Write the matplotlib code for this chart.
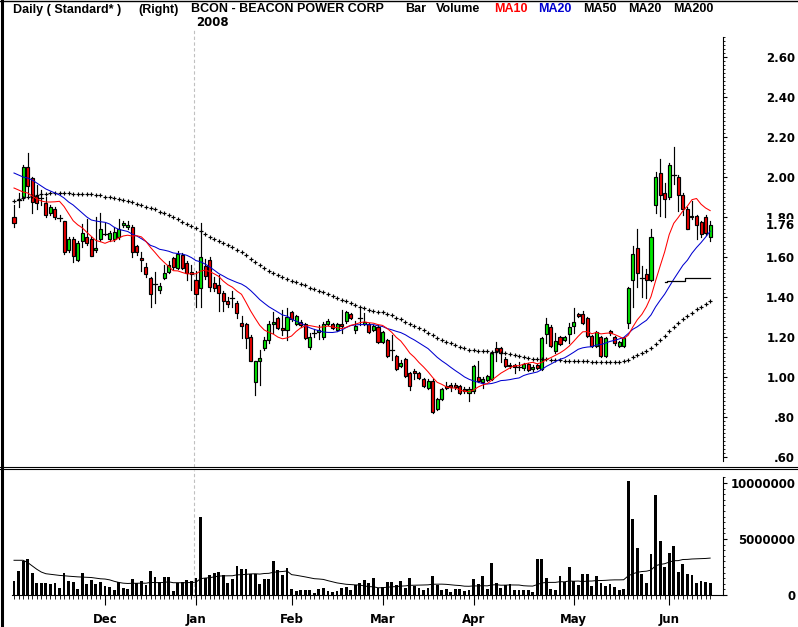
import numpy as np
import pandas as pd
import matplotlib
matplotlib.use("Agg")
import matplotlib.pyplot as plt
from matplotlib.patches import Rectangle
from matplotlib.lines import Line2D
from matplotlib.ticker import FixedLocator, FuncFormatter

# ---------------- data ----------------
holidays = ["2007-11-22", "2007-12-25", "2008-01-01", "2008-01-21",
            "2008-02-18", "2008-03-21", "2008-05-26"]
dates = pd.bdate_range("2007-11-02", "2008-06-13")
dates = dates[~dates.isin(pd.to_datetime(holidays))]

opens = [1.80, 1.885, 1.90, 2.05, 1.995, 1.905, 1.895, 1.87, 1.82, 1.84,
         1.795, 1.78, 1.635, 1.69, 1.585, 1.68, 1.70, 1.69, 1.635, 1.69,
         1.715, 1.69, 1.69, 1.70, 1.76, 1.75, 1.75, 1.655, 1.595, 1.55,
         1.495, 1.465, 1.435, 1.495, 1.525, 1.595, 1.545, 1.61, 1.57, 1.525,
         1.485, 1.445, 1.555, 1.585, 1.47, 1.46, 1.42, 1.38, 1.395, 1.37,
         1.27, 1.265, 1.20, 0.975, 1.08, 1.145, 1.185, 1.265, 1.295, 1.245,
         1.235, 1.325, 1.265, 1.275, 1.265, 1.15, 1.22, 1.225, 1.20, 1.265,
         1.265, 1.235, 1.265, 1.28, 1.315, 1.235, 1.295, 1.265, 1.265, 1.235,
         1.25, 1.175, 1.185, 1.135, 1.105, 1.055, 1.09, 1.02, 1.03, 1.02,
         0.99, 0.945, 0.98, 0.84, 0.89, 0.955, 0.96, 0.96, 0.955, 0.94,
         0.92, 0.93, 1.00, 0.975, 0.985, 0.99, 1.145, 1.145, 1.09, 1.055,
         1.06, 1.05, 1.045, 1.065, 1.04, 1.06, 1.04, 1.215, 1.25, 1.13,
         1.20, 1.185, 1.215, 1.255, 1.315, 1.315, 1.295, 1.205, 1.155, 1.20,
         1.105, 1.23, 1.20, 1.155, 1.155, 1.27, 1.485, 1.645, 1.495, 1.515,
         1.485, 1.86, 2.02, 1.92, 1.90, 2.01, 2.00, 1.91, 1.84, 1.80,
         1.805, 1.775, 1.80, 1.70]
highs = [1.86, 1.92, 2.06, 2.12, 2.00, 1.96, 1.935, 1.90, 1.86, 1.85,
         1.81, 1.78, 1.70, 1.70, 1.68, 1.765, 1.79, 1.70, 1.80, 1.82,
         1.77, 1.73, 1.75, 1.79, 1.78, 1.78, 1.76, 1.66, 1.625, 1.57,
         1.50, 1.525, 1.47, 1.56, 1.58, 1.60, 1.63, 1.62, 1.58, 1.56,
         1.53, 1.77, 1.59, 1.60, 1.50, 1.51, 1.43, 1.40, 1.43, 1.38,
         1.305, 1.27, 1.21, 1.08, 1.135, 1.20, 1.28, 1.325, 1.30, 1.335,
         1.345, 1.33, 1.31, 1.285, 1.27, 1.22, 1.24, 1.26, 1.275, 1.29,
         1.27, 1.27, 1.335, 1.33, 1.32, 1.28, 1.34, 1.32, 1.27, 1.26,
         1.26, 1.23, 1.19, 1.21, 1.11, 1.085, 1.095, 1.025, 1.04, 1.025,
         0.995, 0.99, 0.99, 0.895, 0.945, 0.975, 0.97, 0.97, 0.96, 0.95,
         0.95, 1.06, 1.08, 1.00, 1.01, 1.125, 1.175, 1.15, 1.10, 1.07,
         1.065, 1.075, 1.07, 1.07, 1.06, 1.065, 1.20, 1.295, 1.26, 1.22,
         1.205, 1.205, 1.27, 1.345, 1.32, 1.33, 1.30, 1.21, 1.23, 1.205,
         1.20, 1.235, 1.205, 1.18, 1.20, 1.45, 1.655, 1.74, 1.555, 1.54,
         1.74, 2.025, 2.09, 1.97, 2.07, 2.15, 2.01, 1.92, 1.85, 1.88,
         1.81, 1.78, 1.81, 1.78]
lows = [1.75, 1.85, 1.885, 1.90, 1.82, 1.84, 1.86, 1.80, 1.81, 1.79,
        1.78, 1.615, 1.625, 1.575, 1.58, 1.65, 1.66, 1.605, 1.625, 1.68,
        1.71, 1.68, 1.68, 1.69, 1.75, 1.74, 1.60, 1.61, 1.53, 1.50,
        1.35, 1.37, 1.42, 1.49, 1.52, 1.54, 1.54, 1.54, 1.485, 1.435,
        1.35, 1.35, 1.49, 1.43, 1.43, 1.33, 1.33, 1.35, 1.35, 1.295,
        1.195, 1.145, 1.08, 0.91, 0.96, 1.135, 1.17, 1.22, 1.24, 1.21,
        1.185, 1.28, 1.26, 1.25, 1.19, 1.14, 1.20, 1.19, 1.19, 1.26,
        1.24, 1.23, 1.22, 1.27, 1.29, 1.22, 1.26, 1.26, 1.22, 1.23,
        1.17, 1.17, 1.10, 1.085, 1.035, 1.05, 1.00, 0.935, 0.99, 0.99,
        0.95, 0.94, 0.82, 0.835, 0.885, 0.94, 0.93, 0.94, 0.915, 0.92,
        0.88, 0.92, 0.975, 0.945, 0.98, 0.985, 1.08, 1.075, 1.05, 1.045,
        1.02, 1.035, 1.035, 1.03, 1.03, 1.04, 1.035, 1.17, 1.15, 1.12,
        1.16, 1.18, 1.17, 1.22, 1.30, 1.265, 1.20, 1.15, 1.15, 1.10,
        1.10, 1.21, 1.16, 1.15, 1.15, 1.245, 1.35, 1.45, 1.40, 1.395,
        1.48, 1.82, 1.805, 1.80, 1.89, 1.965, 1.83, 1.81, 1.74, 1.79,
        1.69, 1.70, 1.71, 1.68]
closes = [1.77, 1.885, 2.05, 1.955, 1.875, 1.87, 1.895, 1.81, 1.85, 1.80,
          1.795, 1.625, 1.69, 1.605, 1.67, 1.72, 1.67, 1.605, 1.645, 1.74,
          1.715, 1.72, 1.725, 1.74, 1.77, 1.76, 1.625, 1.625, 1.585, 1.515,
          1.415, 1.465, 1.455, 1.52, 1.56, 1.55, 1.615, 1.545, 1.52, 1.515,
          1.415, 1.60, 1.505, 1.45, 1.445, 1.42, 1.38, 1.365, 1.395, 1.32,
          1.255, 1.195, 1.08, 1.08, 1.095, 1.185, 1.265, 1.275, 1.245, 1.235,
          1.30, 1.29, 1.305, 1.26, 1.195, 1.20, 1.22, 1.235, 1.265, 1.28,
          1.245, 1.265, 1.255, 1.325, 1.295, 1.255, 1.295, 1.275, 1.225, 1.255,
          1.175, 1.225, 1.105, 1.135, 1.04, 1.07, 1.005, 0.955, 1.02, 0.995,
          0.955, 0.98, 0.825, 0.89, 0.94, 0.945, 0.95, 0.95, 0.92, 0.93,
          0.94, 1.055, 0.98, 0.99, 1.005, 1.12, 1.13, 1.12, 1.055, 1.06,
          1.05, 1.05, 1.065, 1.035, 1.05, 1.045, 1.195, 1.265, 1.155, 1.18,
          1.165, 1.20, 1.25, 1.275, 1.305, 1.27, 1.205, 1.155, 1.225, 1.105,
          1.195, 1.22, 1.17, 1.175, 1.195, 1.445, 1.615, 1.52, 1.495, 1.485,
          1.70, 2.00, 1.91, 1.89, 2.06, 2.01, 1.91, 1.84, 1.74, 1.805,
          1.76, 1.715, 1.72, 1.76]
# volume in millions of shares
volume_m = [1.25, 2.15, 3.0, 3.2, 2.0, 1.07, 1.07, 1.07, 1.0, 1.07,
            0.63, 2.0, 1.25, 1.16, 0.54, 2.0, 1.0, 1.34, 1.0, 1.16,
            0.8, 0.72, 0.45, 1.16, 0.63, 0.54, 1.43, 1.07, 1.25, 0.9,
            2.15, 1.6, 1.16, 1.6, 1.6, 0.36, 1.07, 1.16, 1.34, 1.25,
            1.5, 7.0, 1.5, 1.8, 2.0, 2.05, 1.8, 1.07, 1.43, 2.6,
            2.3, 2.3, 1.9, 1.9, 1.0, 1.4, 1.4, 3.0, 2.2, 1.8,
            2.4, 0.54, 0.36, 0.45, 0.45, 0.45, 0.18, 0.54, 0.63, 0.36,
            0.27, 0.36, 0.63, 0.72, 0.45, 0.9, 1.07, 1.34, 1.07, 1.5,
            0.63, 0.72, 1.16, 1.16, 0.9, 1.25, 0.63, 1.5, 0.8, 0.63,
            0.45, 0.63, 1.7, 0.9, 0.45, 0.54, 0.27, 0.54, 0.54, 0.36,
            0.45, 1.43, 1.0, 1.7, 0.54, 2.87, 1.07, 0.63, 0.9, 1.0,
            0.45, 0.45, 0.45, 0.45, 0.27, 3.2, 3.2, 1.5, 0.54, 0.45,
            1.7, 1.16, 2.5, 1.25, 0.9, 1.9, 1.9, 0.8, 1.7, 1.07,
            0.8, 1.0, 0.72, 0.45, 0.5, 10.2, 6.8, 4.2, 1.9, 1.07,
            3.67, 8.95, 4.84, 2.5, 3.76, 4.4, 2.06, 2.78, 1.9, 1.8,
            1.07, 1.25, 1.16, 1.1]

# moving-average values before enough bars are on the chart
ma10_head = [1.945, 1.935, 1.925, 1.92, 1.905, 1.89, 1.88, 1.875, 1.875]
ma20_head = [2.02, 2.01, 2.00, 1.995, 1.985, 1.97, 1.955, 1.94, 1.93, 1.92,
             1.91, 1.895, 1.875, 1.86, 1.84, 1.82, 1.80, 1.785, 1.78]
ma50_head = [1.882, 1.888, 1.895, 1.90, 1.905, 1.91, 1.913, 1.917, 1.918, 1.92,
             1.922, 1.92, 1.918, 1.917, 1.917, 1.915, 1.915, 1.913, 1.91, 1.91,
             1.902, 1.898, 1.895, 1.89, 1.885, 1.88, 1.873, 1.865, 1.86, 1.852,
             1.845, 1.838, 1.827, 1.818, 1.81, 1.80, 1.79, 1.777, 1.765, 1.755,
             1.743, 1.73, 1.715, 1.70, 1.69, 1.68, 1.67, 1.66, 1.648]
ma200_tail = [1.477, 1.478, 1.479, 1.48, 1.481, 1.495, 1.496, 1.496, 1.497, 1.497, 1.497]
vol_ma20_head = [3.1, 3.1, 3.1, 2.9, 2.6, 2.3, 2.05, 1.9, 1.85, 1.8,
                 1.75, 1.72, 1.68, 1.65, 1.62, 1.6, 1.58, 1.56, 1.5]

price_ticks = [0.60, 0.80, 1.00, 1.20, 1.40, 1.60, 1.80, 2.00, 2.20, 2.40, 2.60]
vol_ticks = [0, 5000000, 10000000]
last_price_label = "1.76"

# ---------------- derived series ----------------
n = len(closes)
xs = np.arange(n)
c = pd.Series(closes)
ma10 = c.rolling(10).mean().values
ma10[:len(ma10_head)] = ma10_head
ma20 = c.rolling(20).mean().values
ma20[:len(ma20_head)] = ma20_head
ma50 = c.rolling(50).mean().values
ma50[:len(ma50_head)] = ma50_head
vol = np.array(volume_m) * 1e6
vma = pd.Series(vol).rolling(20).mean().values
vma[:len(vol_ma20_head)] = np.array(vol_ma20_head) * 1e6

month_idx = []
month_lab = []
for k in range(1, n):
    if dates[k].month != dates[k - 1].month:
        month_idx.append(k)
        month_lab.append(dates[k].strftime("%b"))
year_idx = [k for k in range(1, n) if dates[k].year != dates[k - 1].year][0]

# ---------------- figure ----------------
W, H = 798, 627
fig = plt.figure(figsize=(W / 100, H / 100), dpi=100)
fig.patch.set_facecolor("white")
FONT = "DejaVu Sans"
HFONT = "Liberation Sans"
FS = 8.5


def px_rect(l, t, r, b):
    return [l / W, (H - b) / H, (r - l) / W, (b - t) / H]


XMIN = -10 / 4.55
XMAX = XMIN + 719 / 4.55
P_TOP, P_BOT = 2.0 + 176 / 200, 2.0 - 289.5 / 200
ax = fig.add_axes(px_rect(4, 1, 723, 466.5))
ax.set_xlim(XMIN, XMAX)
ax.set_ylim(P_BOT, P_TOP)
axv = fig.add_axes(px_rect(4, 470, 723, 598))
axv.set_xlim(XMIN, XMAX)
axv.set_ylim(-3 / 11.2 * 1e6, 125 / 11.2 * 1e6)
for a in (ax, axv):
    a.patch.set_alpha(0)
    for s in ("top", "left", "bottom"):
        a.spines[s].set_visible(False)
    a.spines["right"].set_linewidth(0.8)

# candles
bw = 0.68
for i in range(n):
    o, h, l, cl = opens[i], highs[i], lows[i], closes[i]
    ax.add_line(Line2D([i, i], [l, h], color="black", lw=0.85, zorder=2))
    if abs(cl - o) < 1e-9:
        ax.add_line(Line2D([i - bw / 2 - 0.1, i + bw / 2 + 0.1], [cl, cl],
                           color="black", lw=0.9, zorder=3))
    else:
        col = "#00e800" if cl > o else "#f00000"
        ax.add_patch(Rectangle((i - bw / 2, min(o, cl)), bw, abs(cl - o),
                               facecolor=col, edgecolor="black", lw=0.85, zorder=3))

ax.plot(xs, ma50, linestyle="none", marker="+", markersize=2.3, mew=0.85,
        color="black", zorder=4)
ax.plot(xs, ma20, color="#0000d0", lw=0.75, zorder=5)
ax.plot(xs, ma10, color="#ff0000", lw=0.75, zorder=5)
ax.plot(xs[n - len(ma200_tail):], ma200_tail, color="black", lw=0.9, zorder=5,
        drawstyle="steps-mid")

# year separator
xsep = year_idx - 0.5
ax.axvline(xsep, ymin=0, ymax=(466.5 - 30) / 465.5, color="#c0c0c0", lw=0.8,
           dashes=(3, 2.2), zorder=1)
axv.axvline(xsep, color="#c0c0c0", lw=0.8, dashes=(3, 2.2), zorder=1)

# price y axis (right)
PB_LO, PB_HI = 0.58, 2.70
ax.yaxis.tick_right()
ax.yaxis.set_major_locator(FixedLocator(price_ticks))
ax.yaxis.set_minor_locator(FixedLocator(list(np.arange(0.60, PB_HI + 0.001, 0.02))))


def pfmt(v, pos):
    s = f"{v:.2f}"
    return s[1:] if s.startswith("0") else s


ax.yaxis.set_major_formatter(FuncFormatter(pfmt))
ax.tick_params(axis="y", which="major", length=3, width=0.8, pad=49,
               labelsize=FS)
ax.tick_params(axis="y", which="minor", length=1.5, width=0.6)
ax.set_xticks([])
ax.spines["right"].set_bounds(PB_LO, PB_HI)
for t in ax.get_yticklabels():
    t.set_horizontalalignment("right")
    t.set_fontweight("bold")
    t.set_fontfamily(FONT)

# current price label (covers the lower half of the neighbouring tick label)
fig.text(795 / W, 1 - 225.5 / H, last_price_label, ha="right", va="center",
         fontsize=FS, fontweight="bold", family=FONT,
         bbox=dict(facecolor="white", edgecolor="none", pad=0.3))

# volume
axv.bar(xs, vol, width=0.62, color="black", zorder=3)
axv.plot(xs, vma, color="black", lw=0.7, zorder=4)
axv.yaxis.tick_right()
axv.yaxis.set_major_locator(FixedLocator(vol_ticks))
axv.yaxis.set_minor_locator(FixedLocator(list(np.arange(0, 10.5e6 + 1, 5e5))))
axv.yaxis.set_major_formatter(FuncFormatter(lambda v, p: f"{int(round(v))}"))
axv.tick_params(axis="y", which="major", length=3, width=0.8, pad=49,
                labelsize=FS)
axv.tick_params(axis="y", which="minor", length=1.5, width=0.6)
axv.spines["right"].set_bounds(0, 10.5e6)
for t in axv.get_yticklabels():
    t.set_horizontalalignment("right")
    t.set_fontweight("bold")
    t.set_fontfamily(FONT)

axv.spines["bottom"].set_visible(True)
axv.spines["bottom"].set_position(("data", 0))
axv.spines["bottom"].set_bounds(-0.4, XMAX)
axv.spines["bottom"].set_linewidth(0.8)
axv.xaxis.set_major_locator(FixedLocator(month_idx))
axv.xaxis.set_minor_locator(FixedLocator(list(range(n))))
axv.set_xticklabels(month_lab)
axv.tick_params(axis="x", which="major", length=7.5, width=0.8, pad=5.5,
                labelsize=FS)
axv.tick_params(axis="x", which="minor", length=3, width=0.6)
for t in axv.get_xticklabels():
    t.set_fontweight("bold")
    t.set_fontfamily(FONT)

# frame lines
fig.add_artist(Line2D([0, 1], [1 - 0.5 / H, 1 - 0.5 / H], color="black", lw=1.0))
fig.add_artist(Line2D([2 / W, 2 / W], [0, 1], color="black", lw=2.2))
for yy in (466.8, 469.3):
    fig.add_artist(Line2D([0, 1], [1 - yy / H, 1 - yy / H], color="black", lw=0.8))

# header
hdr = [("Daily ( Standard* )", 12.7, "black"), ("(Right)", 138, "black"),
       ("BCON - BEACON POWER CORP", 191, "black"), ("Bar", 405, "black"),
       ("Volume", 436, "black"), ("MA10", 494, "#ff0000"), ("MA20", 538, "#0000d0"),
       ("MA50", 583, "black"), ("MA20", 628, "black"), ("MA200", 673, "black")]
for txt, xp, col in hdr:
    fig.text(xp / W, 1 - 9.5 / H, txt, ha="left", va="center", fontsize=9,
             fontweight="bold", family=HFONT, color=col)
fig.text(212 / W, 1 - 23 / H, str(dates[year_idx].year), ha="center", va="center",
         fontsize=FS, fontweight="bold", family=FONT)

fig.savefig("out.png", dpi=100)
